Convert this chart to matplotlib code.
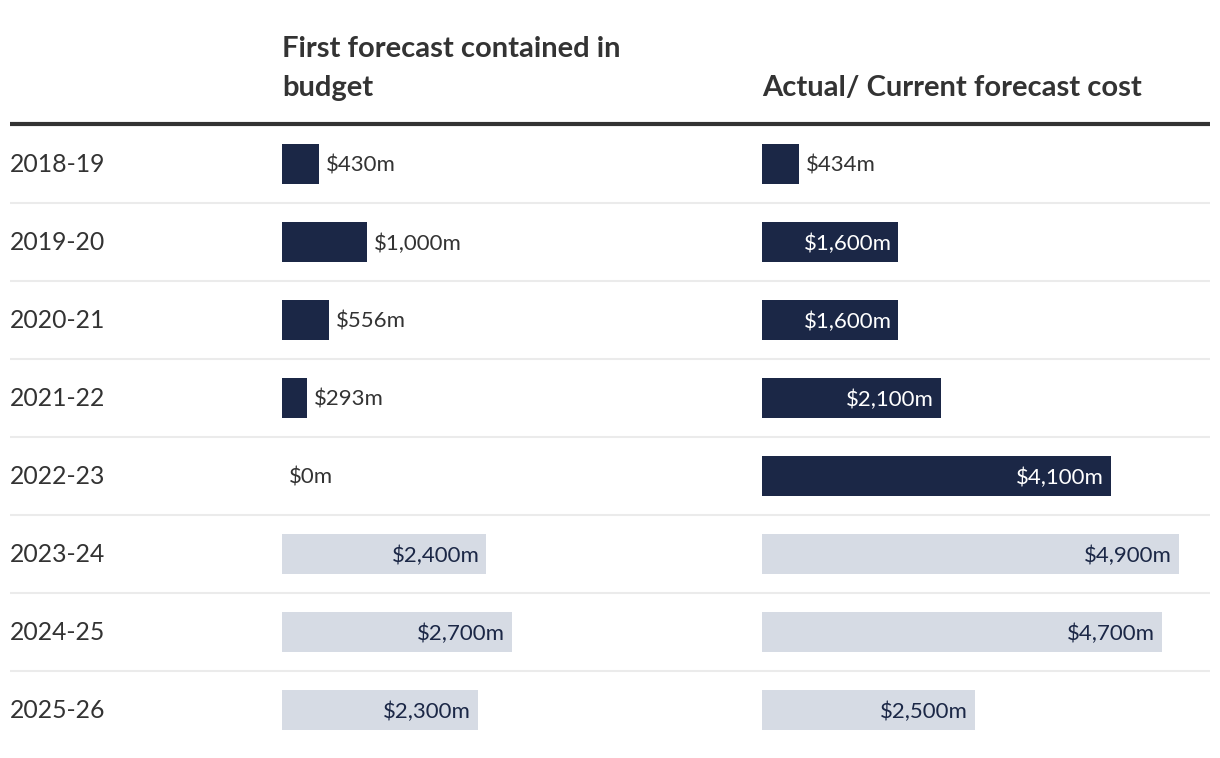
import matplotlib.pyplot as plt

plt.rcParams['font.family'] = ['Lato', 'DejaVu Sans']

years = ['2018-19', '2019-20', '2020-21', '2021-22', '2022-23', '2023-24', '2024-25', '2025-26']
first_forecast = [430, 1000, 556, 293, 0, 2400, 2700, 2300]
current_forecast = [434, 1600, 1600, 2100, 4100, 4900, 4700, 2500]
is_forecast = [False, False, False, False, False, True, True, True]
headers = ['First forecast contained in\nbudget', 'Actual/ Current forecast cost']

NAVY = '#1b2746'
LIGHT = '#d6dbe4'
TEXT = '#333333'

W, H = 1220, 758
PX_PER_M = 0.085
ROW_H = 78
TOP = 125

fig = plt.figure(figsize=(W / 100, H / 100), dpi=100)

# background axes in pixel units for rules, headers and row labels
bg = fig.add_axes([0, 0, 1, 1])
bg.set_xlim(0, W)
bg.set_ylim(H, 0)
bg.axis('off')

bg.hlines(124, 10, 1210, color=TEXT, lw=3)
for k in range(1, len(years)):
    bg.hlines(TOP + ROW_H * k, 10, 1210, color='#ebebeb', lw=1.5)

for i, y in enumerate(years):
    bg.text(10, TOP + ROW_H * (i + 0.5) - 1, y, fontsize=17.8, color=TEXT,
            ha='left', va='center_baseline')

col_x = [282, 762]
col_w = [480, 448]
for x0, head in zip(col_x, headers):
    bg.text(x0, 96, head, fontsize=21, fontweight='bold', color=TEXT,
            ha='left', va='baseline', linespacing=1.6)

bottom = (H - TOP - ROW_H * len(years)) / H
height = ROW_H * len(years) / H

for x0, w, values in zip(col_x, col_w, [first_forecast, current_forecast]):
    ax = fig.add_axes([x0 / W, bottom, w / W, height])
    ax.set_xlim(0, w / PX_PER_M)
    ax.set_ylim(len(years) - 0.5, -0.5)
    ax.axis('off')
    colors = [LIGHT if f else NAVY for f in is_forecast]
    ax.barh(range(len(years)), values, height=40 / ROW_H, color=colors)
    for i, v in enumerate(values):
        label = f'${v:,.0f}m'
        if v > 1200:
            tc = NAVY if is_forecast[i] else 'white'
            ax.annotate(label, (v, i), xytext=(-4.5, 0), textcoords='offset points',
                        ha='right', va='center_baseline', fontsize=16, color=tc)
        else:
            ax.annotate(label, (v, i), xytext=(5, 0), textcoords='offset points',
                        ha='left', va='center_baseline', fontsize=16, color=TEXT)

fig.savefig('out.png', dpi=100)
